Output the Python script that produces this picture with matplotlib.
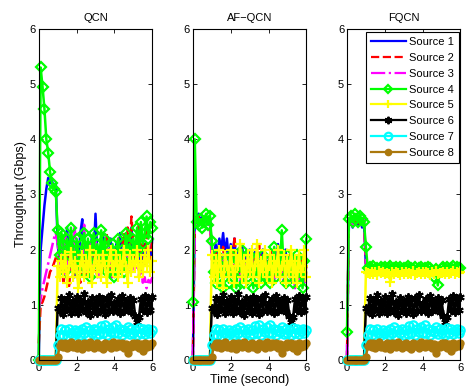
import numpy as np
import matplotlib.pyplot as plt

plt.rcParams['font.family'] = ['Liberation Sans', 'DejaVu Sans']

# sample times, 0.1 s apart
t = np.round(np.arange(61) * 0.1, 1)

titles = ['QCN', 'AF\u2212QCN', 'FQCN']
labels = ['Source %d' % i for i in range(1, 9)]

off = [0.0] * 10

# ---- QCN ----
qcn_s1 = [0, 2.0, 2.4, 2.8, 3.1, 3.3, 3.2, 3.25, 3.1, 3.2, 2.1,
          1.8, 2.2, 1.6, 2.0, 2.4, 1.7, 1.9, 2.2, 1.5, 2.0,
          1.8, 2.3, 2.55, 1.6, 2.1, 1.9, 1.7, 2.2, 1.8, 2.65,
          1.9, 1.6, 2.1, 2.3, 1.7, 2.0, 1.8, 2.2, 1.6, 1.9,
          2.1, 1.7, 2.3, 1.8, 2.0, 1.6, 2.2, 1.9, 2.4, 1.7,
          2.0, 1.8, 2.2, 1.6, 1.9, 2.1, 1.7, 2.0, 1.8, 2.2]
qcn_s2 = [0.3, 1.0, 1.05, 1.15, 1.3, 1.45, 1.6, 1.65, 1.75, 1.85, 1.9,
          1.5, 1.9, 1.4, 1.6, 2.0, 1.3, 1.8, 1.5, 1.7, 2.1,
          1.6, 1.4, 1.9, 1.7, 1.5, 2.0, 1.8, 1.6, 2.2, 1.7,
          1.5, 1.9, 1.7, 2.1, 1.6, 2.3, 1.8, 1.5, 2.0, 1.7,
          1.9, 2.2, 1.6, 2.0, 2.3, 1.8, 2.4, 1.9, 2.6, 2.1,
          1.8, 2.2, 2.5, 1.9, 2.1, 1.7, 2.4, 2.0, 1.8, 2.2]
qcn_s3 = [0.9, 1.1, 1.3, 1.45, 1.6, 1.75, 1.9, 2.05, 2.2, 2.3, 2.1,
          1.7, 2.1, 1.5, 2.3, 1.8, 1.6, 2.0, 1.7, 2.4, 1.9,
          1.6, 2.0, 1.7, 2.45, 1.8, 1.5, 2.1, 1.9, 1.6, 2.2,
          1.8, 1.5, 2.0, 1.7, 1.9, 1.6, 2.1, 1.8, 1.5, 1.9,
          1.7, 2.0, 1.6, 1.8, 2.1, 1.7, 1.9, 1.6, 1.8, 1.7,
          1.6, 1.9, 1.5, 1.7, 1.4, 1.5, 1.3, 1.45, 1.4, 1.5]
qcn_s4 = [0, 5.3, 4.95, 4.55, 4.0, 3.75, 3.4, 3.2, 3.1, 3.05, 2.35,
          1.9, 2.3, 2.1, 1.6, 2.2, 1.9, 2.4, 2.0, 1.7, 2.2,
          1.9, 1.6, 2.1, 2.3, 1.8, 2.2, 1.5, 2.0, 2.3, 1.8,
          2.1, 1.7, 2.35, 1.9, 2.2, 1.6, 2.0, 1.8, 2.1, 1.5,
          1.9, 2.2, 1.7, 2.0, 1.6, 2.3, 1.9, 2.1, 1.8, 2.2,
          1.9, 2.4, 2.0, 2.5, 2.1, 2.3, 2.6, 2.2, 2.5, 2.4]
qcn_s5 = off + [1.7,
          1.5, 1.8, 1.6, 1.9, 1.4, 1.7, 1.95, 1.5, 1.8, 1.6,
          1.3, 1.7, 1.9, 1.5, 1.8, 1.6, 2.0, 1.4, 1.7, 1.9,
          1.6, 1.8, 1.5, 1.9, 1.7, 1.4, 1.8, 2.0, 1.6, 1.7,
          1.9, 1.5, 1.8, 1.6, 2.0, 1.7, 1.4, 1.9, 1.6, 1.8,
          1.7, 2.0, 1.5, 1.8, 1.6, 1.9, 1.7, 2.0, 1.6, 1.8]

# ---- AF-QCN ----
af_s1 = [0, 2.6, 2.55, 2.65, 2.5, 2.6, 2.55, 2.6, 2.5, 2.6, 2.0,
         1.8, 2.1, 1.9, 2.2, 2.0, 2.3, 1.9, 2.2, 1.8, 2.1,
         1.9, 2.2, 1.7, 2.0, 1.8, 2.1, 1.7, 1.9, 1.6, 2.0,
         1.8, 1.7, 2.0, 1.6, 1.9, 1.7, 2.0, 1.6, 1.8, 1.7,
         1.9, 1.6, 2.0, 1.7, 2.1, 1.6, 1.9, 1.7, 2.0, 1.6,
         1.8, 1.5, 1.9, 1.7, 1.6, 1.9, 1.5, 1.8, 1.6, 1.7]
af_s2 = [0, 2.55, 2.5, 2.6, 2.45, 2.55, 2.5, 2.6, 2.45, 2.55, 1.9,
         1.7, 2.0, 1.6, 1.9, 1.7, 2.05, 1.6, 1.9, 1.7, 2.0,
         1.6, 2.25, 1.7, 1.9, 1.5, 2.0, 1.7, 1.8, 1.6, 1.9,
         1.7, 1.5, 1.9, 1.6, 2.1, 1.7, 1.9, 1.5, 1.8, 1.6,
         2.0, 1.7, 1.5, 1.9, 1.6, 2.0, 1.7, 1.5, 1.8, 1.6,
         1.9, 1.5, 1.7, 1.4, 1.8, 1.6, 1.5, 1.9, 1.5, 1.7]
af_s3 = [0, 2.5, 2.45, 2.55, 2.5, 2.45, 2.55, 2.5, 2.45, 2.5, 1.8,
         1.6, 1.9, 1.5, 1.8, 1.6, 1.9, 1.5, 1.7, 1.6, 1.9,
         1.5, 1.8, 1.6, 1.9, 1.4, 1.7, 1.6, 1.8, 1.5, 1.7,
         1.6, 1.4, 1.8, 1.5, 1.9, 1.6, 1.7, 1.4, 1.8, 1.5,
         1.7, 1.6, 1.4, 1.8, 1.5, 1.7, 1.6, 1.4, 1.7, 1.5,
         1.8, 1.4, 1.6, 1.3, 1.7, 1.5, 1.4, 1.7, 1.4, 1.6]
af_s4 = [1.05, 4.0, 2.5, 2.45, 2.55, 2.4, 2.5, 2.65, 2.45, 2.6, 2.15,
         1.6, 1.4, 1.9, 1.5, 1.7, 1.3, 1.8, 1.6, 1.4, 1.9,
         1.5, 1.7, 1.3, 1.8, 1.6, 2.0, 1.4, 1.7, 1.5, 1.9,
         1.6, 1.3, 1.8, 1.5, 1.7, 1.4, 1.9, 1.6, 1.5, 1.8,
         1.4, 1.7, 2.05, 1.5, 1.8, 1.6, 2.35, 1.7, 1.4, 1.9,
         1.5, 1.8, 1.4, 1.7, 1.9, 1.5, 1.6, 1.3, 1.8, 2.2]
af_s5 = off + [1.9,
         1.5, 1.8, 1.4, 2.0, 1.6, 1.3, 1.9, 1.7, 1.5, 2.0,
         1.6, 1.4, 1.9, 1.7, 2.1, 1.5, 1.8, 1.4, 1.9, 1.6,
         2.0, 1.5, 1.7, 2.1, 1.4, 1.8, 1.6, 2.0, 1.5, 1.7,
         1.9, 1.4, 1.8, 1.6, 2.0, 1.5, 1.7, 1.9, 1.4, 1.8,
         1.6, 2.0, 1.5, 1.8, 1.4, 1.9, 1.6, 1.7, 2.0, 1.5]

# ---- FQCN ----
fq_s1 = [0, 2.45, 2.55, 2.4, 2.6, 2.5, 2.45, 2.55, 2.4, 2.5, 1.7,
         1.65, 1.62, 1.67, 1.64, 1.66, 1.63, 1.68, 1.64, 1.66, 1.62,
         1.67, 1.64, 1.66, 1.63, 1.65, 1.68, 1.62, 1.66, 1.64, 1.67,
         1.63, 1.66, 1.64, 1.68, 1.62, 1.65, 1.67, 1.63, 1.66, 1.64,
         1.67, 1.62, 1.65, 1.68, 1.63, 1.66, 1.64, 1.67, 1.63, 1.65,
         1.66, 1.62, 1.67, 1.64, 1.65, 1.63, 1.68, 1.64, 1.66, 1.63]
fq_s2 = [0, 2.5, 2.45, 2.55, 2.5, 2.6, 2.5, 2.45, 2.55, 2.5, 1.75,
         1.64, 1.66, 1.63, 1.67, 1.65, 1.62, 1.66, 1.68, 1.63, 1.65,
         1.64, 1.67, 1.62, 1.66, 1.64, 1.65, 1.67, 1.63, 1.66, 1.64,
         1.66, 1.63, 1.67, 1.64, 1.65, 1.62, 1.66, 1.68, 1.64, 1.65,
         1.63, 1.66, 1.64, 1.67, 1.65, 1.62, 1.66, 1.64, 1.67, 1.63,
         1.65, 1.67, 1.63, 1.66, 1.64, 1.66, 1.62, 1.67, 1.64, 1.65]
fq_s3 = [0, 2.55, 2.5, 2.45, 2.55, 2.5, 2.55, 2.5, 2.45, 2.55, 1.8,
         1.66, 1.64, 1.68, 1.63, 1.65, 1.67, 1.62, 1.66, 1.64, 1.67,
         1.63, 1.65, 1.68, 1.64, 1.66, 1.62, 1.65, 1.67, 1.63, 1.66,
         1.64, 1.67, 1.62, 1.66, 1.65, 1.68, 1.63, 1.65, 1.67, 1.63,
         1.66, 1.64, 1.67, 1.62, 1.66, 1.65, 1.63, 1.67, 1.64, 1.66,
         1.63, 1.66, 1.64, 1.67, 1.62, 1.65, 1.67, 1.63, 1.65, 1.66]
fq_s4 = [0.5, 2.55, 2.6, 2.5, 2.65, 2.55, 2.5, 2.6, 2.55, 2.5, 2.05,
         1.66, 1.68, 1.64, 1.7, 1.65, 1.67, 1.63, 1.69, 1.66, 1.68,
         1.64, 1.67, 1.7, 1.63, 1.66, 1.68, 1.65, 1.69, 1.64, 1.67,
         1.66, 1.7, 1.64, 1.67, 1.65, 1.69, 1.63, 1.66, 1.68, 1.65,
         1.67, 1.64, 1.68, 1.66, 1.62, 1.5, 1.64, 1.35, 1.6, 1.67,
         1.69, 1.65, 1.68, 1.64, 1.67, 1.7, 1.65, 1.68, 1.66, 1.67]
fq_s5 = off + [1.6,
         1.58, 1.55, 1.6, 1.56, 1.59, 1.54, 1.61, 1.57, 1.6, 1.55,
         1.58, 1.56, 1.42, 1.59, 1.55, 1.6, 1.57, 1.54, 1.59, 1.56,
         1.6, 1.55, 1.58, 1.56, 1.61, 1.54, 1.58, 1.6, 1.56, 1.59,
         1.55, 1.6, 1.57, 1.54, 1.59, 1.56, 1.61, 1.55, 1.58, 1.57,
         1.6, 1.55, 1.59, 1.56, 1.58, 1.61, 1.55, 1.59, 1.57, 1.6]

# sources 6-8 look the same in all three schemes
s6 = off + [0.95,
      0.88, 1.12, 0.84, 1.08, 0.93, 1.18, 0.86, 1.06, 0.9, 1.14,
      0.85, 1.09, 0.92, 1.19, 0.87, 1.05, 0.82, 1.13, 0.9, 1.07,
      0.86, 1.15, 0.91, 1.1, 0.84, 1.12, 0.89, 1.17, 0.88, 1.04,
      0.9, 1.11, 0.85, 1.16, 0.89, 1.06, 0.92, 1.13, 0.87, 1.09,
      0.8, 0.68, 0.78, 1.1, 0.9, 1.16, 0.87, 1.12, 0.91, 1.14]
s7 = off + [0.28,
      0.45, 0.56, 0.46, 0.54, 0.43, 0.57, 0.49, 0.45, 0.55, 0.48,
      0.53, 0.45, 0.56, 0.48, 0.6, 0.44, 0.54, 0.49, 0.57, 0.46,
      0.55, 0.47, 0.62, 0.49, 0.64, 0.46, 0.56, 0.51, 0.6, 0.48,
      0.63, 0.49, 0.57, 0.45, 0.55, 0.5, 0.6, 0.47, 0.56, 0.49,
      0.54, 0.46, 0.58, 0.49, 0.56, 0.47, 0.53, 0.57, 0.48, 0.55]
s8 = off + [0.05,
      0.25, 0.31, 0.23, 0.3, 0.21, 0.29, 0.32, 0.24, 0.28, 0.22,
      0.31, 0.25, 0.19, 0.3, 0.27, 0.23, 0.32, 0.25, 0.21, 0.29,
      0.31, 0.24, 0.28, 0.19, 0.31, 0.25, 0.29, 0.22, 0.32, 0.27,
      0.23, 0.3, 0.25, 0.31, 0.21, 0.29, 0.12, 0.27, 0.23, 0.31,
      0.25, 0.3, 0.22, 0.29, 0.16, 0.31, 0.24, 0.29, 0.26, 0.3]

panels = [
    [qcn_s1, qcn_s2, qcn_s3, qcn_s4, qcn_s5, s6, s7, s8],
    [af_s1, af_s2, af_s3, af_s4, af_s5, s6, s7, s8],
    [fq_s1, fq_s2, fq_s3, fq_s4, fq_s5, s6, s7, s8],
]

brown = (0.67, 0.47, 0.05)
styles = [
    dict(color=(0, 0, 1), ls='-', marker=None),
    dict(color=(1, 0, 0), ls='--', marker=None),
    dict(color=(1, 0, 1), ls='-.', marker=None),
    dict(color=(0, 1, 0), ls='-', marker='D', mfc='none', ms=5, mew=1.6),
    dict(color=(1, 1, 0), ls='-', marker='+', ms=7, mew=1.6),
    dict(color='k', ls='-', marker=(6, 2, 0), ms=6, mew=1.4),
    dict(color=(0, 1, 1), ls='-', marker='o', mfc='none', ms=6, mew=1.6),
    dict(color=brown, ls='-', marker='o', ms=5, mew=1),
]

fig = plt.figure(figsize=(4.67, 3.9), dpi=100)
lefts = [0.083, 0.413, 0.743]
axes = []
for k in range(3):
    ax = fig.add_axes([lefts[k], 0.077, 0.243, 0.849])
    for series, st in zip(panels[k], styles):
        ax.plot(t, series, lw=1.8, label='_', clip_on=False, **st)
    ax.set_xlim(0, 6)
    ax.set_ylim(0, 6)
    ax.set_xticks([0, 2, 4, 6])
    ax.set_yticks(range(7))
    ax.tick_params(direction='in', top=True, right=True, labelsize=8,
                   length=3, width=0.6, pad=2)
    for sp in ax.spines.values():
        sp.set_linewidth(0.8)
    ax.set_title(titles[k], fontsize=8, pad=6)
    axes.append(ax)

axes[0].set_ylabel('Throughput (Gbps)', fontsize=9, labelpad=2)
axes[1].set_xlabel('Time (second)', fontsize=9, labelpad=1)

# legend entries with one marker in the middle
handles = []
for lab, st in zip(labels, styles):
    h, = axes[2].plot([], [], lw=1.6, label=lab, **st)
    handles.append(h)
leg = axes[2].legend(handles=handles, loc='upper right', bbox_to_anchor=(0.985, 0.99),
                     borderaxespad=0, fontsize=8, handlelength=3.1, labelspacing=0.52,
                     handletextpad=0.3, borderpad=0.45, markerscale=0.9,
                     fancybox=False, framealpha=1, edgecolor='k', numpoints=1)
leg.get_frame().set_linewidth(0.8)

fig.savefig('out.png', dpi=100)
